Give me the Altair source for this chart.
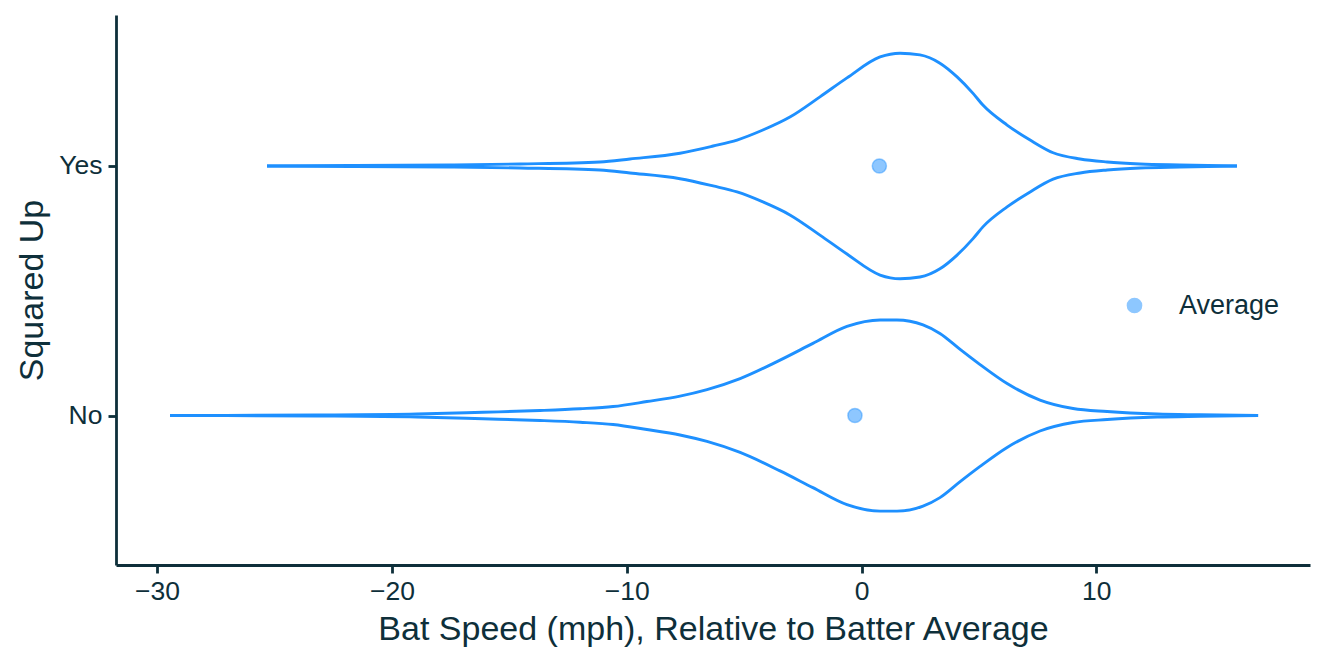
import altair as alt
import pandas as pd

# Categories (y positions: No = 1, Yes = 2)
categories = ["No", "Yes"]
cat_pos = [1, 2]

# Violin outline for "Yes": bat speed values and half-widths (in category units)
yes_x = [-25.32, -21.78, -17.53, -14.54, -11.14, -9.86, -7.73, -6.32, -5.30, -4.20,
         -3.05, -1.77, -0.62, 0.79, 1.64, 2.49, 3.34, 4.07, 4.75, 5.17,
         6.20, 7.18, 8.16, 9.31, 10.46, 11.86, 13.56, 15.99]
yes_hw = [0.0, 0.002, 0.004, 0.008, 0.016, 0.028, 0.051, 0.080, 0.104, 0.144,
          0.196, 0.277, 0.353, 0.437, 0.452, 0.445, 0.412, 0.357, 0.291, 0.244,
          0.164, 0.104, 0.053, 0.028, 0.016, 0.008, 0.004, 0.0]

# Violin outline for "No"
no_x = [-29.45, -23.19, -18.93, -16.12, -13.69, -11.99, -10.58, -9.14, -7.73, -6.58,
        -5.17, -3.47, -2.07, -0.62, 0.79, 1.51, 2.62, 3.34, 4.20, 5.05,
        6.20, 7.60, 9.01, 10.46, 12.59, 14.42, 16.89]
no_hw = [0.0, 0.002, 0.006, 0.013, 0.020, 0.027, 0.036, 0.056, 0.078, 0.104,
         0.148, 0.222, 0.289, 0.357, 0.383, 0.383, 0.363, 0.329, 0.265, 0.204,
         0.128, 0.062, 0.028, 0.016, 0.006, 0.003, 0.0]

# Averages
avg_values = [-0.28, 0.76]  # No, Yes

BLUE = "#1E90FF"
INK = "#0E2F3A"
FONT = "Liberation Sans"

rows = []
for cat, pos, xs, hws in [("Yes", 2, yes_x, yes_hw), ("No", 1, no_x, no_hw)]:
    for side, sgn in [("top", 1), ("bottom", -1)]:
        for x, hw in zip(xs, hws):
            rows.append({"cat": cat, "side": side, "grp": cat + side,
                         "speed": x, "y": pos + sgn * hw})
violin_df = pd.DataFrame(rows)

avg_df = pd.DataFrame({"cat": categories, "y": cat_pos, "speed": avg_values,
                       "label": ["Average", "Average"]})

label_expr = "datum.value == 2 ? '%s' : '%s'" % (categories[1], categories[0])

x_scale = alt.Scale(domain=[-31.75, 19.10], nice=False, zero=False)
y_scale = alt.Scale(domain=[0.401, 2.605], nice=False, zero=False)

x_axis = alt.Axis(values=[-30, -20, -10, 0, 10], grid=False,
                  title="Bat Speed (mph), Relative to Batter Average",
                  labelPadding=5, titlePadding=8)
y_axis = alt.Axis(values=[1, 2], labelExpr=label_expr, grid=False,
                  title="Squared Up", labelPadding=6, titlePadding=9)

violins = alt.Chart(violin_df).mark_line(
    color=BLUE, strokeWidth=2.9, interpolate="monotone"
).encode(
    x=alt.X("speed:Q", scale=x_scale, axis=x_axis),
    y=alt.Y("y:Q", scale=y_scale, axis=y_axis),
    detail="grp:N",
    order=alt.Order("speed:Q"),
)

points = alt.Chart(avg_df).mark_circle(
    size=200, fillOpacity=0.5, stroke=BLUE, strokeWidth=1.5, strokeOpacity=0.45
).encode(
    x=alt.X("speed:Q", scale=x_scale),
    y=alt.Y("y:Q", scale=y_scale),
    color=alt.Color("label:N", scale=alt.Scale(range=[BLUE]),
                    legend=alt.Legend(title=None, orient="none",
                                      legendX=1005, legendY=277,
                                      symbolSize=200, symbolOpacity=0.5,
                                      symbolStrokeWidth=1.5,
                                      symbolStrokeColor=BLUE,
                                      labelFontSize=27, labelColor=INK,
                                      labelFont=FONT, labelOffset=31,
                                      padding=0)),
)

chart = alt.layer(violins, points).properties(
    width=1194, height=550,
    autosize=alt.AutoSizeParams(type="none"),
    padding={"left": 116, "top": 15, "right": 19, "bottom": 99},
    background="white",
).configure_view(stroke=None).configure_axis(
    domainColor=INK, domainWidth=2.8, tickColor=INK, tickWidth=2.8, tickSize=8,
    labelColor=INK, labelFontSize=26.5, labelFont=FONT,
    titleColor=INK, titleFontSize=34, titleFont=FONT, titleFontWeight="normal",
)

chart.save("out.html", embed_options={"renderer": "svg", "actions": False})
